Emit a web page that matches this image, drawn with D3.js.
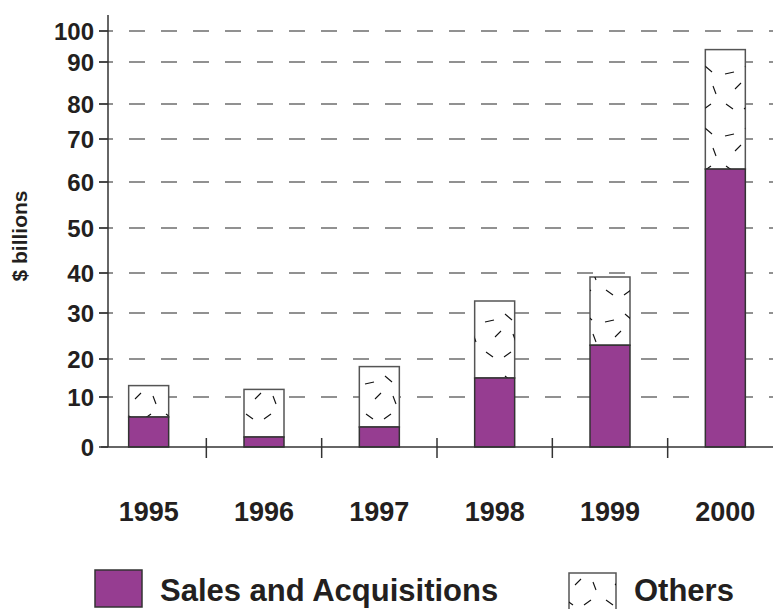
<!DOCTYPE html>
<html>
<head>
<meta charset="utf-8">
<script src="https://cdn.jsdelivr.net/npm/d3@7"></script>
<style>
  html, body { margin: 0; padding: 0; background: #fff; }
  svg { display: block; }
  text { font-family: "Liberation Sans", Arial, Helvetica, sans-serif; font-weight: bold; fill: #231f20; }
</style>
</head>
<body>
<svg id="chart" width="773" height="609"></svg>
<script>
// Foreign direct investment by year, $ billions
const years = ["1995", "1996", "1997", "1998", "1999", "2000"];
const salesAcq = [6, 2, 4, 15, 23, 63];
const others = [7, 10, 14, 18, 16, 31];
const yTicks = [0, 10, 20, 30, 40, 50, 60, 70, 80, 90, 100];
const seriesNames = ["Sales and Acquisitions", "Others"];

const W = 773, H = 609;
const PURPLE = "#963d91";
const svg = d3.select("#chart");

// Vertical axis is printed with uneven spacing between its gridlines,
// so a polylinear scale maps each tick value to its printed height.
const yTickPx = [447, 397, 359, 313, 273, 228, 182, 139, 104, 62, 31];
const y = d3.scaleLinear().domain(yTicks).range(yTickPx);

const axisX = 108, baseY = y(0);
const x = d3.scaleBand().domain(years).range([91, 783]).padding(0);
const barW = 40;
const cx = d => x(d) + x.bandwidth() / 2;

// Hatch of short scattered strokes used for the "Others" segments
const defs = svg.append("defs");
const pat = defs.append("pattern")
  .attr("id", "scatter")
  .attr("patternUnits", "userSpaceOnUse")
  .attr("width", 40).attr("height", 62);
const strokes = [
  [5, 12, 14, 10], [25, 4, 32, 10], [15, 27, 21, 21],
  [33, 24, 36, 32], [6, 42, 13, 47], [24, 47, 31, 42]
];
pat.selectAll("line").data(strokes).join("line")
  .attr("x1", d => d[0]).attr("y1", d => d[1])
  .attr("x2", d => d[2]).attr("y2", d => d[3])
  .attr("stroke", "#111").attr("stroke-width", 1.1);

// Dashed gridlines
svg.append("g").selectAll("line").data(yTicks.slice(1)).join("line")
  .attr("x1", 99).attr("x2", W)
  .attr("y1", d => y(d)).attr("y2", d => y(d))
  .attr("stroke", "#6e6e6e").attr("stroke-width", 1.5)
  .attr("stroke-dasharray", "16,16").attr("stroke-dashoffset", 2);

// Y tick marks and labels
svg.append("g").selectAll("line").data(yTicks).join("line")
  .attr("x1", 99).attr("x2", axisX)
  .attr("y1", d => y(d)).attr("y2", d => y(d))
  .attr("stroke", "#333").attr("stroke-width", 1.5);
svg.append("g").selectAll("text").data(yTicks).join("text")
  .attr("x", 94).attr("y", d => y(d)).attr("dy", "0.36em")
  .attr("text-anchor", "end").attr("font-size", 24)
  .text(d => d);

// Axis title
svg.append("text")
  .attr("transform", `translate(27,236) rotate(-90)`)
  .attr("text-anchor", "middle").attr("font-size", 21)
  .text("$ billions");

// Stacked bars
const rows = years.map((yr, i) => ({ yr, s: salesAcq[i], o: others[i] }));
const bars = svg.append("g");
bars.selectAll("rect.oth").data(rows).join("rect").attr("class", "oth")
  .attr("x", d => cx(d.yr) - barW / 2).attr("width", barW)
  .attr("y", d => y(d.s + d.o)).attr("height", d => y(d.s) - y(d.s + d.o))
  .attr("fill", "#fff").attr("stroke", "#555").attr("stroke-width", 1.5);
bars.selectAll("rect.othp").data(rows).join("rect").attr("class", "othp")
  .attr("x", d => cx(d.yr) - barW / 2).attr("width", barW)
  .attr("y", d => y(d.s + d.o)).attr("height", d => y(d.s) - y(d.s + d.o))
  .attr("fill", "url(#scatter)");
bars.selectAll("rect.sa").data(rows).join("rect").attr("class", "sa")
  .attr("x", d => cx(d.yr) - barW / 2).attr("width", barW)
  .attr("y", d => y(d.s)).attr("height", d => y(0) - y(d.s))
  .attr("fill", PURPLE).attr("stroke", "#333").attr("stroke-width", 1.5);

// Axes lines
svg.append("line").attr("x1", axisX).attr("x2", axisX)
  .attr("y1", 15).attr("y2", baseY)
  .attr("stroke", "#333").attr("stroke-width", 1.5);
svg.append("line").attr("x1", 101).attr("x2", W)
  .attr("y1", baseY).attr("y2", baseY)
  .attr("stroke", "#333").attr("stroke-width", 1.5);

// Category separators on the x axis
svg.append("g").selectAll("line").data(years.slice(1)).join("line")
  .attr("x1", d => x(d)).attr("x2", d => x(d))
  .attr("y1", baseY - 9).attr("y2", baseY + 11)
  .attr("stroke", "#333").attr("stroke-width", 1.5);

// Year labels
svg.append("g").selectAll("text").data(years).join("text")
  .attr("x", d => cx(d)).attr("y", 521)
  .attr("text-anchor", "middle").attr("font-size", 27)
  .text(d => d);

// Legend
const lg = svg.append("g");
lg.append("rect").attr("x", 95).attr("y", 570).attr("width", 47).attr("height", 37)
  .attr("fill", PURPLE).attr("stroke", "#333").attr("stroke-width", 1.5);
lg.append("text").attr("x", 160).attr("y", 601).attr("font-size", 31).text(seriesNames[0]);
lg.append("rect").attr("x", 569).attr("y", 573).attr("width", 47).attr("height", 40)
  .attr("fill", "#fff").attr("stroke", "#555").attr("stroke-width", 1.5);
lg.append("rect").attr("x", 569).attr("y", 573).attr("width", 47).attr("height", 40)
  .attr("fill", "url(#scatter)");
lg.append("text").attr("x", 634).attr("y", 601).attr("font-size", 31).text(seriesNames[1]);
</script>
</body>
</html>
